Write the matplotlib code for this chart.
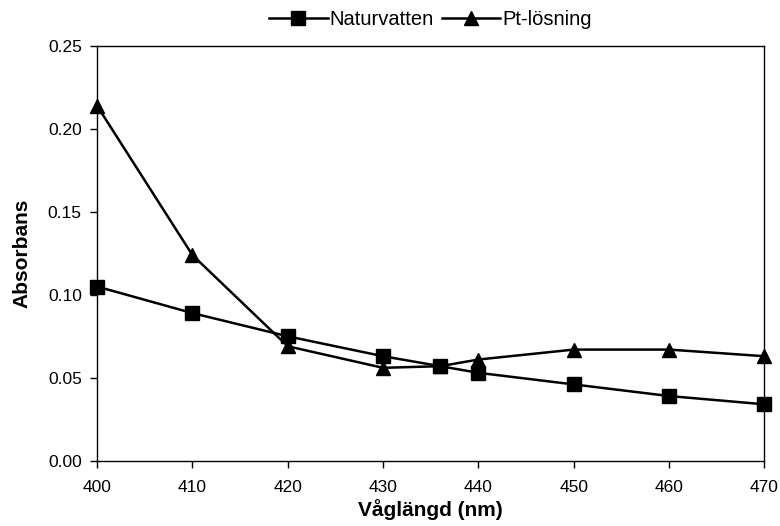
import matplotlib
matplotlib.use("Agg")
import matplotlib.pyplot as plt
from matplotlib.ticker import FormatStrFormatter, MultipleLocator

plt.rcParams['font.family'] = ['Liberation Sans', 'DejaVu Sans']

wavelength = [400, 410, 420, 430, 436, 440, 450, 460, 470]
naturvatten = [0.105, 0.089, 0.075, 0.063, 0.057, 0.053, 0.046, 0.039, 0.034]
pt_losning = [0.214, 0.124, 0.069, 0.056, 0.057, 0.061, 0.067, 0.067, 0.063]

x_ticks = [400, 410, 420, 430, 440, 450, 460, 470]

fig = plt.figure(figsize=(7.8, 5.26), dpi=100)
ax = fig.add_axes([0.1244, 0.1241, 0.8556, 0.7884])

ax.plot(wavelength, naturvatten, color='black', linewidth=1.8,
        marker='s', markersize=9.5, label='Naturvatten', clip_on=False, zorder=3)
ax.plot(wavelength, pt_losning, color='black', linewidth=1.8,
        marker='^', markersize=10.5, label='Pt-lösning', clip_on=False, zorder=3)

ax.set_xlim(400, 470)
ax.set_ylim(0, 0.25)
ax.set_xticks(x_ticks)
ax.yaxis.set_major_locator(MultipleLocator(0.05))
ax.yaxis.set_major_formatter(FormatStrFormatter('%.2f'))

for side in ['left', 'bottom', 'top', 'right']:
    ax.spines[side].set_linewidth(1.0)
    ax.spines[side].set_color('black')

ax.tick_params(axis='both', direction='out', length=5, width=1,
               labelsize=12.5, colors='black', pad=6)
ax.tick_params(axis='x', pad=9)

ax.set_xlabel('Våglängd (nm)', fontsize=15, fontweight='bold', labelpad=3)
ax.set_ylabel('Absorbans', fontsize=15, fontweight='bold', labelpad=12)

fig.legend(loc='center', bbox_to_anchor=(0.552, 0.962), ncol=2, frameon=False,
           fontsize=14.5, handlelength=2.9, columnspacing=0.4, handletextpad=0.1)

fig.savefig('out.png', dpi=100)
